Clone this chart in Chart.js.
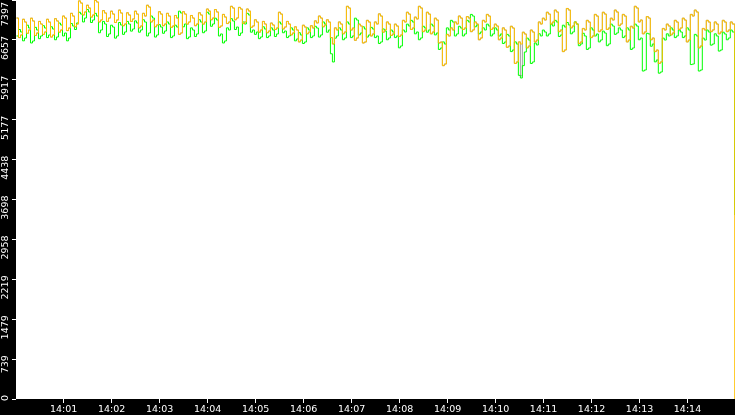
<!DOCTYPE html>
<html>
<head>
<meta charset="utf-8">
<script src="https://cdn.jsdelivr.net/npm/chart.js@4.4.1/dist/chart.umd.min.js"></script>
<style>
    html, body { margin: 0; padding: 0; background: #000; }
    #contenedor { width: 735px; height: 415px; }
</style>
</head>
<body>
<div id="contenedor"><canvas id="cargaChart"></canvas></div>
<script>
// Segundos desde las 14:00:00 (una muestra cada 2,5 s, la ultima a los 899 s)
const segundos = Array.from({ length: 359 }, (_, i) => 1 + 2.5 * i).concat([899]);

// Serie naranja
const serieNaranja = [
    7063, 6700, 6748, 7040, 6989, 6780, 6841, 7060, 7008, 6740,
    6785, 7000, 6952, 6760, 6804, 7040, 6989, 6710, 6748, 7050,
    7008, 6800, 6841, 7100, 7063, 6830, 6878, 7150, 7100, 6900,
    6952, 7380, 7341, 7120, 7175, 7300, 7249, 7080, 7119, 7390,
    7360, 6990, 7026, 7200, 7156, 7000, 7063, 7190, 7137, 6980,
    7026, 7210, 7156, 6920, 6952, 7160, 7119, 7000, 7045, 7190,
    7137, 6880, 6915, 7150, 7100, 7300, 7267, 6990, 7026, 6900,
    6934, 7180, 7137, 6920, 6952, 7150, 7100, 6890, 6915, 7110,
    7063, 6760, 6785, 7180, 7137, 6950, 6989, 7110, 7063, 6920,
    6952, 7160, 7119, 6950, 6989, 7230, 7193, 7030, 7063, 7220,
    7175, 6890, 6915, 7130, 7082, 6960, 6989, 7280, 7249, 7030,
    7063, 7260, 7230, 6960, 6989, 7230, 7193, 6890, 6915, 7030,
    6989, 6800, 6841, 7000, 6952, 6790, 6822, 6970, 6934, 6850,
    6878, 7170, 7137, 6860, 6896, 7000, 6952, 6750, 6785, 6900,
    6841, 6620, 6655, 6930, 6896, 6770, 6804, 6920, 6878, 7010,
    6971, 7100, 7063, 6900, 6934, 7030, 6989, 6700, 6581, 6880,
    6841, 6990, 6952, 6770, 6804, 7280, 7249, 6840, 6878, 6650,
    6692, 6950, 6915, 6600, 6618, 7020, 6989, 6730, 6767, 6990,
    6952, 7140, 7100, 6800, 6841, 6990, 6952, 6740, 6767, 6950,
    6915, 6720, 6748, 7020, 6989, 7170, 7137, 6850, 6878, 7080,
    7045, 7280, 7249, 6810, 6841, 7170, 7137, 6770, 6804, 7060,
    7026, 6600, 6618, 6180, 6210, 6760, 6730, 6880, 6841, 6990,
    6952, 7100, 7063, 6850, 6878, 7090, 7063, 6810, 6841, 6990,
    6952, 6660, 6692, 7020, 6989, 7130, 7100, 6850, 6878, 6950,
    6915, 6660, 6692, 6880, 6841, 6520, 6544, 6910, 6878, 6220,
    6248, 6620, 6581, 6800, 6767, 6510, 6544, 6840, 6804, 6620,
    6655, 6990, 6952, 7060, 7026, 7170, 7137, 6950, 6989, 7210,
    7175, 6810, 6841, 6440, 6470, 7240, 7212, 6880, 6915, 6990,
    6952, 6590, 6618, 6870, 6841, 7020, 6989, 6700, 6730, 7130,
    7100, 6810, 6841, 7170, 7137, 6850, 6878, 7060, 7026, 7210,
    7175, 6920, 6952, 7130, 7100, 6620, 6655, 6910, 6878, 7280,
    7249, 6990, 7026, 6770, 6804, 7090, 7063, 6660, 6692, 6440,
    6470, 6220, 6248, 6870, 6841, 6950, 6915, 6750, 6785, 7020,
    6989, 6850, 6878, 7060, 7026, 6620, 6655, 7130, 7100, 7210,
    7175, 6510, 6544, 6870, 6841, 7020, 6989, 6810, 6841, 6990,
    6952, 6770, 6804, 7020, 6989, 6810, 6841, 6990, 6952,
    0
];

// Serie verde
const serieVerde = [
    6730, 6850, 6804, 6640, 6692, 6930, 6878, 6600, 6637, 6890,
    6841, 6680, 6730, 6920, 6878, 6700, 6748, 6900, 6859, 6660,
    6711, 6970, 6934, 6730, 6785, 6640, 6692, 6960, 6915, 6850,
    6971, 7170, 7137, 6990, 7063, 7220, 7175, 6980, 7026, 7150,
    7100, 6790, 6841, 7000, 6952, 6720, 6767, 6930, 6896, 6690,
    6730, 6980, 6934, 6760, 6804, 7000, 6952, 6820, 6859, 7010,
    6971, 6800, 6841, 7030, 6989, 6730, 6785, 7100, 7063, 6710,
    6748, 6940, 6896, 6780, 6822, 6990, 6952, 6700, 6730, 6930,
    6896, 7190, 7156, 6900, 6952, 6680, 6711, 6880, 6841, 6720,
    6767, 7030, 6989, 6790, 6822, 7170, 7137, 6910, 6952, 7060,
    7026, 6730, 6767, 6600, 6637, 6880, 6841, 7050, 7008, 6850,
    6896, 6740, 6785, 6990, 6952, 7150, 7119, 6800, 6841, 6760,
    6804, 6680, 6711, 6900, 6859, 6700, 6730, 6880, 6841, 6720,
    6767, 6990, 6952, 6790, 6822, 6700, 6730, 6880, 6841, 6640,
    6674, 6790, 6748, 6590, 6618, 6880, 6841, 6700, 6730, 6910,
    6878, 6710, 6748, 6990, 6952, 6800, 6841, 6400, 6248, 6690,
    6730, 6880, 6841, 6660, 6692, 6990, 6952, 6700, 6730, 7060,
    7026, 6750, 6785, 6900, 6859, 6710, 6748, 6890, 6859, 6700,
    6730, 6590, 6618, 6860, 6822, 6660, 6692, 6840, 6804, 6700,
    6730, 6510, 6544, 6840, 6804, 6950, 6915, 7020, 6989, 6770,
    6804, 6660, 6692, 6910, 6878, 6800, 6841, 6950, 6915, 6750,
    6785, 6480, 6507, 6620, 6581, 6880, 6841, 7020, 6989, 6730,
    6767, 6910, 6878, 6730, 6767, 7020, 6989, 7130, 7100, 6900,
    6934, 6770, 6804, 6880, 6841, 6950, 6915, 6730, 6767, 6880,
    6841, 6730, 6767, 6590, 6618, 6760, 6730, 6440, 6470, 6620,
    6581, 6000, 5951, 6180, 6433, 6690, 6655, 6220, 6248, 6600,
    6563, 6770, 6730, 6840, 6804, 6730, 6767, 6950, 6915, 7020,
    6989, 6720, 6748, 6930, 6896, 6980, 6934, 6770, 6804, 6990,
    6952, 6550, 6581, 6780, 6730, 6480, 6507, 6880, 6841, 6730,
    6767, 6620, 6655, 6820, 6785, 6550, 6581, 6950, 6915, 6760,
    6785, 6880, 6841, 6700, 6730, 6880, 6841, 6480, 6507, 6950,
    6915, 6660, 6692, 6080, 6099, 6780, 6767, 6540, 6581, 6250,
    6285, 6040, 6062, 6690, 6655, 6770, 6730, 6880, 6841, 6700,
    6730, 6840, 6804, 6700, 6730, 6880, 6841, 6200, 6210, 6760,
    6730, 6080, 6099, 6690, 6655, 6840, 6804, 6560, 6581, 6770,
    6730, 6450, 6470, 6800, 6767, 6660, 6692, 6840, 6804,
    3410
];

// Serie gris (casi siempre tapada por la naranja)
const serieGris = [
    7063, 6700, 6748, 7040, 6989, 6780, 6841, 7060, 7008, 6740,
    6785, 7000, 6952, 6760, 6804, 7040, 6989, 6710, 6748, 7050,
    7008, 6800, 6841, 7100, 7063, 6830, 6878, 7150, 7100, 6900,
    6952, 7380, 7341, 7120, 7175, 7300, 7249, 7080, 7119, 7390,
    7360, 6990, 7026, 7200, 7156, 7000, 7063, 7190, 7137, 6980,
    7026, 7210, 7156, 6920, 6952, 7160, 7119, 7000, 7045, 7190,
    7137, 6880, 6915, 7150, 7100, 7300, 7267, 6990, 7026, 6900,
    6934, 7180, 7137, 6920, 6952, 7150, 7100, 6890, 6915, 7110,
    7063, 6760, 6785, 7180, 7137, 6950, 6989, 7110, 7063, 6920,
    6952, 7160, 7119, 6950, 6989, 7230, 7193, 7030, 7063, 7220,
    7175, 6890, 6915, 7130, 7082, 6960, 6989, 7280, 7249, 7030,
    7063, 7260, 7230, 6960, 6989, 7230, 7193, 6890, 6915, 7030,
    6989, 6800, 6841, 7000, 6952, 6790, 6822, 6970, 6934, 6850,
    6878, 7170, 7137, 6860, 6896, 7000, 6952, 6750, 6785, 6900,
    6841, 6620, 6655, 6930, 6896, 6770, 6804, 6920, 6878, 7010,
    6971, 7100, 7063, 6900, 6934, 7030, 6989, 6700, 6581, 6880,
    6841, 6990, 6952, 6770, 6804, 7280, 7249, 6840, 6878, 6650,
    6692, 6950, 6915, 6600, 6618, 7020, 6989, 6730, 6767, 6990,
    6952, 7140, 7100, 6800, 6841, 6990, 6952, 6740, 6767, 6950,
    6915, 6720, 6748, 7020, 6989, 7170, 7137, 6850, 6878, 7080,
    7045, 7280, 7249, 6810, 6841, 7170, 7137, 6770, 6804, 7060,
    7026, 6600, 6618, 6180, 6210, 6760, 6730, 6880, 6841, 6990,
    6952, 7100, 7063, 6850, 6878, 7090, 7063, 6810, 6841, 6990,
    6952, 6660, 6692, 7020, 6989, 7130, 7100, 6850, 6878, 6950,
    6915, 6660, 6692, 6880, 6841, 6520, 6544, 6910, 6878, 6220,
    6248, 6620, 5990, 6800, 6767, 6510, 6544, 6840, 6804, 6620,
    6655, 6990, 6952, 7060, 7026, 7170, 7137, 6950, 6989, 7210,
    7175, 6810, 6841, 6440, 6470, 7240, 7212, 6880, 6915, 6990,
    6952, 6590, 6618, 6870, 6841, 7020, 6989, 6700, 6730, 7130,
    7100, 6810, 6841, 7170, 7137, 6850, 6878, 7060, 7026, 7210,
    7175, 6920, 6952, 7130, 7100, 6620, 6655, 6910, 6878, 7280,
    7249, 6990, 7026, 6770, 6804, 7090, 7063, 6660, 6692, 6440,
    6470, 6220, 6248, 6870, 6841, 6950, 6915, 6750, 6785, 7020,
    6989, 6850, 6878, 7060, 7026, 6620, 6655, 7130, 7100, 7210,
    7175, 6510, 6544, 6870, 6841, 7020, 6989, 6810, 6841, 6990,
    6952, 6770, 6804, 7020, 6989, 6810, 6841, 6990, 6952,
    3600
];

// Etiquetas de los ejes
const ejeXSegundos = [60, 120, 180, 240, 300, 360, 420, 480, 540, 600, 660, 720, 780, 840];
const ejeXEtiquetas = ['14:01', '14:02', '14:03', '14:04', '14:05', '14:06', '14:07',
    '14:08', '14:09', '14:10', '14:11', '14:12', '14:13', '14:14'];
const ejeYValores = [0, 739.7, 1479.4, 2219.1, 2958.8, 3698.5, 4438.2, 5177.9, 5917.6, 6657.3, 7397];
const ejeYEtiquetas = ['0', '739', '1479', '2219', '2958', '3698', '4438', '5177', '5917', '6657', '7397'];

const familia = '"DejaVu Sans", Verdana, sans-serif';

// Fondo negro y area de trazado blanca
const fondoPlugin = {
    id: 'fondo',
    beforeDraw: (chart) => {
        const { ctx, chartArea } = chart;
        ctx.save();
        ctx.fillStyle = '#000';
        ctx.fillRect(0, 0, chart.width, chart.height);
        ctx.fillStyle = '#fff';
        ctx.fillRect(chartArea.left, chartArea.top,
            chartArea.right - chartArea.left, chartArea.bottom - chartArea.top);
        ctx.restore();
    }
};

// Etiquetas verticales del eje Y
const etiquetasYPlugin = {
    id: 'etiquetasY',
    afterDraw: (chart) => {
        const ctx = chart.ctx;
        const escala = chart.scales.y;
        ctx.save();
        ctx.fillStyle = '#fff';
        ctx.font = '9.5px ' + familia;
        ctx.textAlign = 'right';
        ctx.textBaseline = 'middle';
        ejeYValores.forEach((v, i) => {
            const py = Math.max(escala.getPixelForValue(v) - 4, 2);
            ctx.save();
            ctx.translate(escala.right - 10, py);
            ctx.rotate(-Math.PI / 2);
            ctx.fillText(ejeYEtiquetas[i], 0, 0);
            ctx.restore();
        });
        ctx.restore();
    }
};

function puntos(valores) {
    return valores.map((v, i) => ({ x: segundos[i], y: v }));
}

document.addEventListener('DOMContentLoaded', function() {
    const ctx = document.getElementById('cargaChart').getContext('2d');
    new Chart(ctx, {
        type: 'line',
        data: {
            datasets: [
                { label: 'Naranja', data: puntos(serieNaranja), borderColor: '#ffc000' },
                { label: 'Verde', data: puntos(serieVerde), borderColor: '#00ff00' },
                { label: 'Gris', data: puntos(serieGris), borderColor: '#a0a0a0' }
            ]
        },
        options: {
            responsive: true,
            maintainAspectRatio: false,
            animation: false,
            layout: { padding: 0 },
            elements: {
                line: { borderWidth: 1, tension: 0, fill: false, stepped: 'before' },
                point: { radius: 0, hoverRadius: 0 }
            },
            plugins: {
                legend: { display: false },
                tooltip: { enabled: false }
            },
            scales: {
                x: {
                    type: 'linear',
                    // medio pixel de desplazamiento para que los trazos verticales queden nitidos
                    min: 0.375,
                    max: 899.375,
                    afterBuildTicks: (scale) => {
                        scale.ticks = ejeXSegundos.map(v => ({ value: v }));
                    },
                    afterFit: (scale) => { scale.height = 16; },
                    grid: { drawOnChartArea: false, drawTicks: true, tickLength: 4, color: '#fff' },
                    border: { display: false },
                    ticks: {
                        autoSkip: false,
                        maxRotation: 0,
                        padding: 1,
                        color: '#fff',
                        font: { family: familia, size: 9.5 },
                        callback: (value) => ejeXEtiquetas[ejeXSegundos.indexOf(value)]
                    }
                },
                y: {
                    type: 'linear',
                    min: 0,
                    max: 7397,
                    afterBuildTicks: (scale) => {
                        scale.ticks = ejeYValores.map(v => ({ value: v }));
                    },
                    afterFit: (scale) => { scale.width = 16; },
                    grid: { drawOnChartArea: false, drawTicks: true, tickLength: 4, color: '#fff' },
                    border: { display: false },
                    ticks: { display: false }
                }
            }
        },
        plugins: [fondoPlugin, etiquetasYPlugin]
    });
});
</script>
</body>
</html>
